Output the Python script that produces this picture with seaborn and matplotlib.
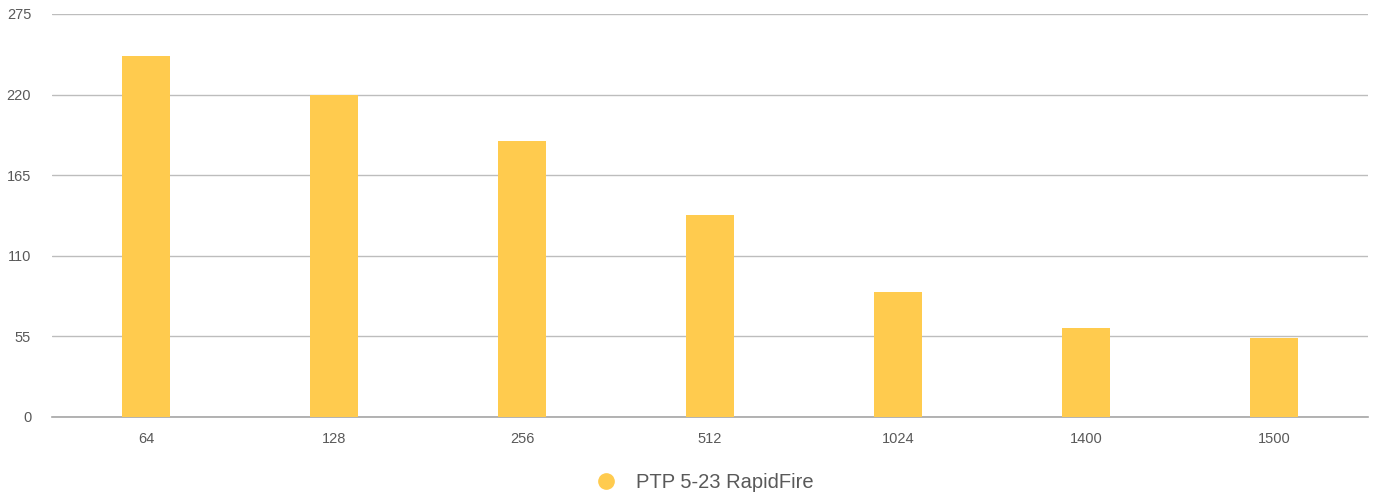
import matplotlib
matplotlib.use("Agg")
import matplotlib.pyplot as plt
from matplotlib.lines import Line2D
import pandas as pd
import seaborn as sns

packet_sizes = ["64", "128", "256", "512", "1024", "1400", "1500"]
throughput = [246, 220, 188, 138, 85, 61, 54]
series_name = "PTP 5-23 RapidFire"
y_ticks = [0, 55, 110, 165, 220, 275]

BAR_COLOR = "#FFCB4E"
TEXT_COLOR = "#595959"

df = pd.DataFrame({"size": packet_sizes, "value": throughput})

sns.set_theme(style="white")
plt.rcParams["font.family"] = ["Liberation Sans", "DejaVu Sans"]

fig = plt.figure(figsize=(13.83, 4.97), dpi=100)
ax = fig.add_axes([0.0376, 0.161, 0.9516, 0.811])

sns.barplot(data=df, x="size", y="value", color=BAR_COLOR, width=0.255,
            saturation=1, linewidth=0, ax=ax, zorder=3)

ax.set_ylim(0, 275)
ax.set_xlim(-0.5, len(packet_sizes) - 0.5)
ax.set_yticks(y_ticks)
ax.set_yticklabels([str(t) for t in y_ticks])
ax.yaxis.grid(True, color="#BDBDBD", linewidth=1, zorder=0)
ax.set_xlabel("")
ax.set_ylabel("")
for side in ["top", "right", "left"]:
    ax.spines[side].set_visible(False)
ax.spines["bottom"].set_color("#A6A6A6")
ax.spines["bottom"].set_linewidth(1.2)
ax.tick_params(axis="both", length=0, labelsize=10.5, colors=TEXT_COLOR)
ax.tick_params(axis="x", pad=11)
ax.tick_params(axis="y", pad=15)

handle = Line2D([], [], marker="o", linestyle="none", markersize=11,
                markerfacecolor=BAR_COLOR, markeredgecolor=BAR_COLOR)
fig.legend([handle], [series_name], loc="center", bbox_to_anchor=(0.509, 0.03),
           frameon=False, fontsize=14.5, labelcolor=TEXT_COLOR,
           handletextpad=0.9, handlelength=1.2)

fig.savefig("out.png", dpi=100)
